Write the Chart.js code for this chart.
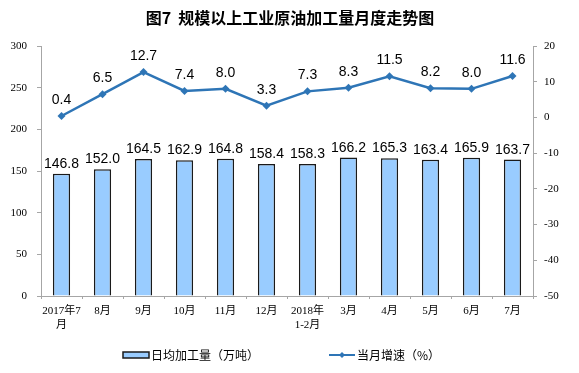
<!DOCTYPE html>
<html>
<head>
<meta charset="utf-8">
<script src="https://cdn.jsdelivr.net/npm/chart.js@4/dist/chart.umd.min.js"></script>
<style>
  body { margin: 0; background: #fff; }
  canvas { display: block; }
</style>
</head>
<body>
<canvas id="chart" width="579" height="373"></canvas>
<script>
const months = [['2017年7', '月'], '8月', '9月', '10月', '11月', '12月', ['2018年', '1-2月'], '3月', '4月', '5月', '6月', '7月'];
const dailyOutput = [146.8, 152.0, 164.5, 162.9, 164.8, 158.4, 158.3, 166.2, 165.3, 163.4, 165.9, 163.7];
const monthlyGrowth = [0.4, 6.5, 12.7, 7.4, 8.0, 3.3, 7.3, 8.3, 11.5, 8.2, 8.0, 11.6];
const leftTicks = [0, 50, 100, 150, 200, 250, 300];
const rightTicks = [-50, -40, -30, -20, -10, 0, 10, 20];

const titleText = '图7  规模以上工业原油加工量月度走势图';
const barName = '日均加工量（万吨）';
const lineName = '当月增速（%）';

const lineColor = '#2E75B6';
const barColor = '#99CCFF';
const axisColor = '#A6A6A6';

// value labels, title and legend drawn on top of the chart
const extras = {
    id: 'extras',
    afterDatasetsDraw(chart) {
        const ctx = chart.ctx;
        ctx.save();
        ctx.fillStyle = '#000';
        ctx.font = '14px "Liberation Sans", Arial, sans-serif';
        ctx.textAlign = 'center';
        ctx.textBaseline = 'alphabetic';
        chart.getDatasetMeta(0).data.forEach(function(bar, i) {
            ctx.fillText(dailyOutput[i].toFixed(1), bar.x, bar.y - 6);
        });
        chart.getDatasetMeta(1).data.forEach(function(pt, i) {
            ctx.fillText(monthlyGrowth[i].toFixed(1), pt.x, pt.y - 12);
        });
        ctx.restore();
    },
    afterDraw(chart) {
        const ctx = chart.ctx;
        ctx.save();
        ctx.fillStyle = '#000';
        ctx.font = 'bold 16px "Noto Sans CJK SC", sans-serif';
        ctx.textAlign = 'center';
        ctx.textBaseline = 'middle';
        ctx.fillText(titleText, 290, 18);

        // legend
        const ly = 355;
        ctx.fillStyle = barColor;
        ctx.strokeStyle = '#1a1a1a';
        ctx.lineWidth = 1.5;
        ctx.fillRect(123, ly - 3, 26, 6);
        ctx.strokeRect(123, ly - 3, 26, 6);
        ctx.font = '12px "Noto Sans CJK SC", sans-serif';
        ctx.fillStyle = '#000';
        ctx.textAlign = 'left';
        ctx.fillText(barName, 151, ly);

        ctx.strokeStyle = lineColor;
        ctx.lineWidth = 2;
        ctx.beginPath();
        ctx.moveTo(329, ly);
        ctx.lineTo(355, ly);
        ctx.stroke();
        ctx.fillStyle = lineColor;
        ctx.beginPath();
        ctx.moveTo(342, ly - 3);
        ctx.lineTo(345, ly);
        ctx.lineTo(342, ly + 3);
        ctx.lineTo(339, ly);
        ctx.closePath();
        ctx.fill();
        ctx.fillStyle = '#000';
        ctx.fillText(lineName, 357, ly);
        ctx.restore();
    }
};

const ctx = document.getElementById('chart').getContext('2d');
const chart = new Chart(ctx, {
    type: 'bar',
    data: {
        labels: months,
        datasets: [{
            type: 'bar',
            label: barName,
            data: dailyOutput,
            yAxisID: 'y',
            backgroundColor: barColor,
            borderColor: '#1a1a1a',
            borderWidth: 1.5,
            barPercentage: 0.42,
            categoryPercentage: 1.0,
            order: 2
        }, {
            type: 'line',
            label: lineName,
            data: monthlyGrowth,
            yAxisID: 'y1',
            borderColor: lineColor,
            backgroundColor: lineColor,
            borderWidth: 2.5,
            pointStyle: 'rectRot',
            pointRadius: 4,
            pointBorderWidth: 0,
            tension: 0,
            order: 1
        }]
    },
    options: {
        responsive: false,
        animation: false,
        layout: { padding: { top: 46, left: 0, right: 0, bottom: 30 } },
        plugins: {
            legend: { display: false },
            title: { display: false },
            tooltip: { enabled: false }
        },
        scales: {
            x: {
                offset: true,
                grid: { display: true, drawOnChartArea: false, offset: true, tickLength: 3, color: axisColor },
                border: { color: axisColor, width: 1 },
                ticks: {
                    color: '#000',
                    font: { family: '"Liberation Serif", "Noto Sans CJK SC", serif', size: 11 },
                    padding: 6,
                    maxRotation: 0,
                    autoSkip: false
                },
                afterFit: function(scale) { scale.height = 47; }
            },
            y: {
                position: 'left',
                min: 0,
                max: 300,
                afterBuildTicks: function(scale) { scale.ticks = leftTicks.map(function(v) { return { value: v }; }); },
                grid: { display: true, drawOnChartArea: false, tickLength: 4, color: axisColor },
                border: { color: axisColor, width: 1 },
                ticks: {
                    color: '#000',
                    font: { family: '"Liberation Serif", serif', size: 11 },
                    padding: 10
                },
                afterFit: function(scale) { scale.width = 41; }
            },
            y1: {
                position: 'right',
                min: -50,
                max: 20,
                afterBuildTicks: function(scale) { scale.ticks = rightTicks.map(function(v) { return { value: v }; }); },
                grid: { display: true, drawOnChartArea: false, tickLength: 4, color: axisColor },
                border: { color: axisColor, width: 1 },
                ticks: {
                    color: '#000',
                    font: { family: '"Liberation Serif", serif', size: 11 },
                    padding: 7
                },
                afterFit: function(scale) { scale.width = 46; }
            }
        }
    },
    plugins: [extras]
});
</script>
</body>
</html>
